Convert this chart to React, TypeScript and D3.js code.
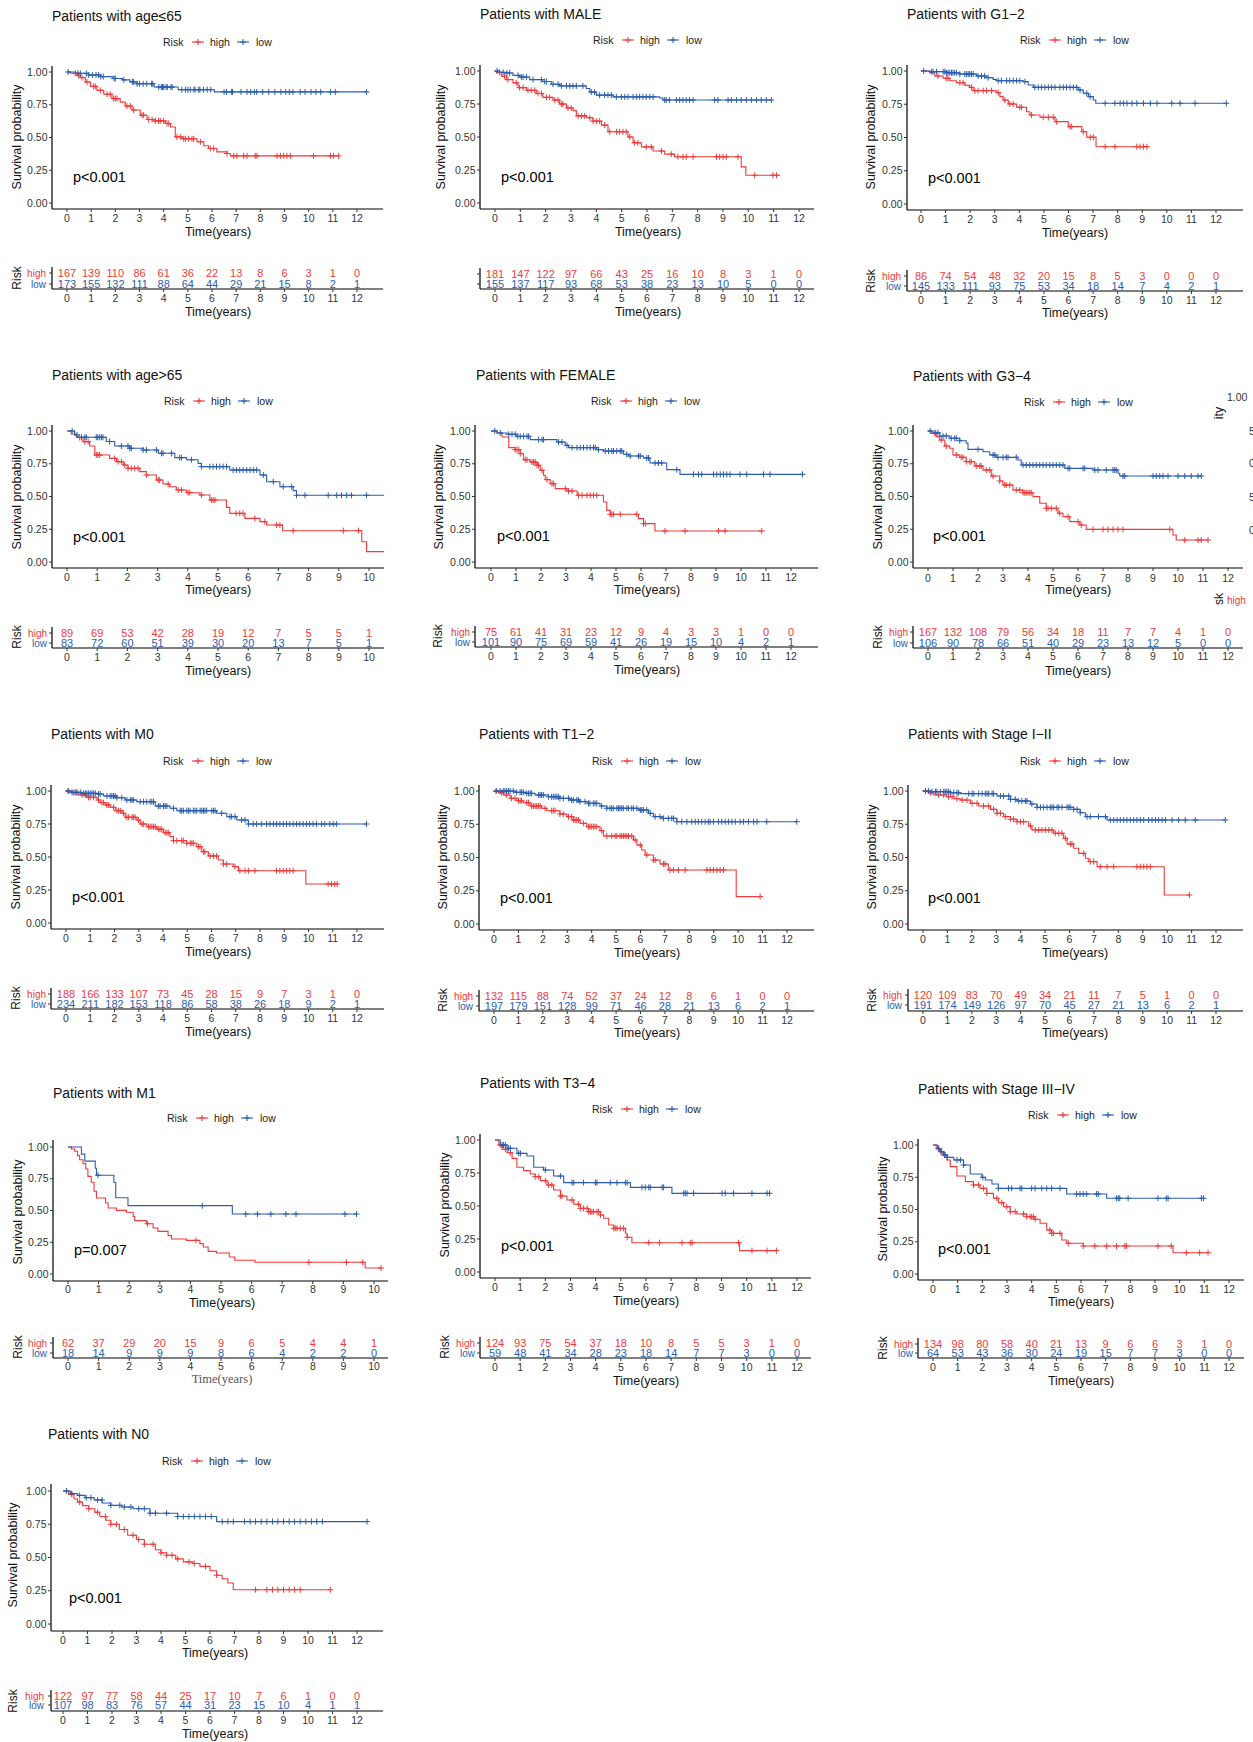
import React from 'react'
import * as d3 from 'd3'

const RED = '#EE3B3B'
const BLUE = '#2B5DAE'
const FONT = 'Arial, "Liberation Sans", Helvetica, sans-serif'

const yTickVals = [0, 0.25, 0.5, 0.75, 1]
const yTickLabels = ['0.00', '0.25', '0.50', '0.75', '1.00']

// ---- age<=65
const ageLeHighSteps = [[0.14,0.99],[0.41,0.975],[0.55,0.957],[0.76,0.924],[0.97,0.89],[1.24,0.86],[1.52,0.83],[1.86,0.797],[2.2,0.77],[2.41,0.74],[2.69,0.71],[3.03,0.67],[3.31,0.637],[3.59,0.627],[4.07,0.607],[4.28,0.58],[4.48,0.505],[4.76,0.49],[5.38,0.467],[5.66,0.437],[5.86,0.416],[6.2,0.39],[6.62,0.378],[6.76,0.36]]
const ageLeHighCens = [0.34,0.48,0.62,0.83,1.1,1.17,1.38,1.66,1.79,1.93,2.0,2.07,2.48,2.62,2.76,3.1,3.17,3.38,3.52,3.66,3.79,3.86,4.0,4.14,4.21,4.55,4.69,4.83,4.9,5.03,5.17,5.24,5.52,5.93,6.07,6.62,6.9,7.03,7.31,7.45,7.79,7.86,8.69,8.83,8.97,9.1,9.24,10.2,10.9,11.03,11.24]
const ageLeLowSteps = [[0.35,0.99],[0.9,0.977],[1.4,0.965],[1.9,0.95],[2.3,0.94],[2.6,0.925],[2.9,0.91],[3.6,0.885],[4.6,0.865],[6.1,0.848]]
const ageLeLowCens = [0.05,0.45,0.55,0.8,0.9,1.05,1.2,1.3,1.4,1.5,1.95,2.0,2.35,2.7,2.75,2.9,3.0,3.15,3.3,3.5,3.55,3.8,3.9,3.95,4.0,4.1,4.15,4.3,4.35,4.75,4.9,5.0,5.1,5.25,5.3,5.45,5.5,5.65,5.8,5.95,6.5,6.6,6.8,6.85,7.2,7.45,7.6,7.75,7.85,8.1,8.35,8.6,8.85,9.05,9.2,9.35,9.65,9.85,10.1,10.3,10.5,10.9,11.1,12.4]
const ageLeEnds = [11.24, 12.4]
const ageLeRiskHigh = [167,139,110,86,61,36,22,13,8,6,3,1,0]
const ageLeRiskLow = [173,155,132,111,88,64,44,29,21,15,8,2,1]

// ---- MALE
const maleHighSteps = [[0.05,0.99],[0.25,0.96],[0.45,0.935],[0.71,0.91],[0.91,0.874],[1.24,0.854],[1.63,0.83],[1.89,0.8],[2.29,0.78],[2.55,0.75],[2.82,0.72],[3.08,0.7],[3.21,0.66],[3.61,0.646],[3.87,0.62],[4.2,0.59],[4.46,0.54],[5.25,0.5],[5.45,0.456],[5.78,0.425],[6.24,0.394],[6.7,0.37],[7.09,0.35],[9.72,0.274],[9.9,0.21]]
const maleHighCens = [0.18,0.38,0.51,0.84,0.97,1.11,1.3,1.43,1.57,1.7,1.83,2.03,2.16,2.36,2.49,2.62,2.68,2.88,3.01,3.28,3.41,3.54,3.74,3.87,4.0,4.13,4.33,4.53,4.8,4.92,5.05,5.18,5.32,5.51,5.64,5.97,6.17,6.57,6.96,7.22,7.42,7.55,7.82,8.74,8.87,9.0,9.13,9.59,10.25,10.97,11.11]
const maleLowSteps = [[0.18,0.99],[0.38,0.985],[0.71,0.967],[0.97,0.955],[1.37,0.935],[1.89,0.92],[2.22,0.9],[2.55,0.887],[3.6,0.867],[3.74,0.84],[4.0,0.817],[4.66,0.804],[6.5,0.796],[6.63,0.78]]
const maleLowCens = [0.08,0.32,0.47,0.58,0.91,1.04,1.11,1.24,1.5,1.83,1.96,2.03,2.29,2.49,2.62,2.82,2.95,3.08,3.21,3.47,3.8,3.93,4.13,4.33,4.46,4.59,4.79,4.99,5.12,5.25,5.45,5.58,5.71,5.84,5.97,6.11,6.24,6.7,6.76,6.89,7.16,7.29,7.42,7.55,7.68,7.82,8.67,8.8,9.2,9.33,9.53,9.72,9.92,10.12,10.32,10.51,10.71,10.91]
const maleEnds = [11.24, 10.91]
const maleRiskHigh = [181,147,122,97,66,43,25,16,10,8,3,1,0]
const maleRiskLow = [155,137,117,93,68,53,38,23,13,10,5,0,0]

// ---- G1-2
const g12HighSteps = [[0.35,0.987],[0.56,0.962],[0.9,0.945],[1.17,0.927],[1.44,0.912],[1.78,0.892],[1.98,0.877],[2.12,0.852],[3.07,0.837],[3.21,0.807],[3.34,0.782],[3.55,0.752],[3.89,0.727],[4.29,0.694],[4.43,0.669],[4.84,0.652],[5.45,0.619],[5.99,0.582],[6.54,0.544],[6.74,0.502],[7.12,0.431]]
const g12HighCens = [0.69,1.03,1.1,1.58,1.71,2.05,2.19,2.32,2.53,2.66,2.87,3.14,3.41,3.61,3.75,4.02,4.09,4.49,4.97,5.18,5.38,5.52,6.06,6.13,6.6,6.88,7.01,7.49,7.89,8.78,8.91,9.05,9.19]
const g12LowSteps = [[0.35,0.995],[1.03,0.987],[1.58,0.977],[2.26,0.962],[2.66,0.95],[2.93,0.937],[3.07,0.927],[4.16,0.92],[4.36,0.895],[4.57,0.877],[6.4,0.857],[6.6,0.832],[6.81,0.807],[7.01,0.782],[7.11,0.757]]
const g12LowCens = [0.11,0.42,0.49,0.63,0.9,0.97,1.03,1.1,1.17,1.24,1.3,1.37,1.44,1.58,1.78,1.85,1.92,1.98,2.05,2.12,2.32,2.46,2.59,2.73,3.14,3.27,3.48,3.61,3.75,3.89,4.02,4.23,4.63,4.77,4.9,5.04,5.18,5.31,5.45,5.65,5.79,5.92,6.06,6.2,6.33,6.47,6.74,6.88,7.49,7.89,8.1,8.24,8.38,8.58,8.78,9.05,9.33,9.6,10.2,10.54,11.15,12.42]
const g12Ends = [9.25, 12.42]
const g12RiskHigh = [86,74,54,48,32,20,15,8,5,3,0,0,0]
const g12RiskLow = [145,133,111,93,75,53,34,18,14,7,4,2,1]

// ---- age>65
const ageGtHighSteps = [[0.14,0.977],[0.31,0.95],[0.53,0.919],[0.75,0.885],[0.92,0.817],[1.41,0.791],[1.64,0.766],[1.86,0.74],[2.02,0.715],[2.41,0.69],[2.63,0.664],[2.96,0.626],[3.18,0.595],[3.4,0.575],[3.62,0.55],[3.96,0.529],[4.4,0.511],[4.73,0.473],[5.28,0.417],[5.39,0.371],[5.89,0.333],[6.39,0.308],[6.61,0.282],[7.14,0.239],[9.76,0.155],[9.92,0.079]]
const ageGtHighCens = [0.42,0.59,0.7,0.97,1.02,1.08,1.58,1.69,1.8,1.91,2.02,2.13,2.24,2.35,2.63,3.02,3.07,3.35,3.68,3.79,4.01,4.07,4.45,4.78,4.84,4.9,5.6,5.72,5.83,6.22,6.55,6.94,7.05,7.49,9.15,9.65]
const ageGtLowSteps = [[0.25,0.97],[0.36,0.952],[1.3,0.92],[1.58,0.885],[2.08,0.868],[2.52,0.855],[3.02,0.83],[3.57,0.797],[3.96,0.78],[4.34,0.753],[4.45,0.728],[5.39,0.702],[6.39,0.664],[6.61,0.613],[7.05,0.575],[7.49,0.545],[7.6,0.509]]
const ageGtLowCens = [0.17,0.33,0.48,0.59,0.64,0.97,1.02,1.08,1.14,1.19,1.41,1.8,2.02,2.08,2.13,2.52,2.63,2.96,3.13,3.18,3.46,3.73,3.79,4.12,4.45,4.73,4.84,4.95,5.06,5.17,5.28,5.5,5.61,5.72,5.83,5.95,6.06,6.17,6.28,6.5,6.83,7.16,7.44,7.6,7.88,8.65,8.93,9.09,9.26,9.42,9.92]
const ageGtEnds = [10.5, 10.5]
const ageGtRiskHigh = [89,69,53,42,28,19,12,7,5,5,1]
const ageGtRiskLow = [83,72,60,51,39,30,20,13,7,5,1]

// ---- FEMALE
const femHighSteps = [[0.24,0.985],[0.44,0.954],[0.71,0.873],[0.97,0.858],[1.17,0.827],[1.3,0.781],[1.57,0.763],[1.84,0.738],[1.97,0.7],[2.1,0.662],[2.17,0.629],[2.37,0.598],[2.57,0.56],[3.04,0.542],[3.44,0.509],[4.5,0.458],[4.63,0.394],[4.77,0.364],[5.9,0.331],[6.1,0.293],[6.56,0.237]]
const femHighCens = [0.97,1.04,1.11,1.17,1.37,1.44,1.64,1.7,1.77,1.84,1.9,2.04,2.24,2.44,2.5,2.97,3.1,3.24,3.5,3.64,3.84,3.97,4.1,4.23,4.77,4.83,4.9,5.17,5.83,6.1,6.17,6.96,7.76,9.1,9.36,10.83]
const femLowSteps = [[0.24,0.985],[0.64,0.975],[1.04,0.959],[1.57,0.934],[2.64,0.916],[2.97,0.89],[3.1,0.873],[4.23,0.858],[4.5,0.847],[5.3,0.822],[5.5,0.809],[6.1,0.794],[6.36,0.756],[7.03,0.705],[7.56,0.669]]
const femLowCens = [0.15,0.37,0.71,0.84,0.97,1.07,1.17,1.3,1.44,1.5,1.9,2.04,2.1,2.7,2.84,3.04,3.24,3.44,3.57,3.7,3.84,3.97,4.1,4.17,4.3,4.57,4.7,4.83,4.9,5.03,5.17,5.23,5.43,5.57,5.9,5.97,6.23,6.3,6.56,6.7,6.83,7.43,8.1,8.3,8.43,8.9,9.03,9.17,9.3,9.43,9.56,9.96,10.23,10.9,11.16,12.46]
const femEnds = [10.83, 12.46]
const femRiskHigh = [75,61,41,31,23,12,9,4,3,3,1,0,0]
const femRiskLow = [101,90,75,69,59,41,26,19,15,10,4,2,1]

// ---- G3-4
const g34HighSteps = [[0.13,0.982],[0.33,0.957],[0.47,0.931],[0.67,0.885],[0.87,0.868],[1.0,0.817],[1.27,0.799],[1.53,0.766],[1.87,0.733],[2.2,0.702],[2.53,0.656],[2.87,0.618],[3.0,0.588],[3.4,0.55],[3.8,0.529],[4.2,0.499],[4.47,0.448],[4.73,0.41],[5.2,0.372],[5.4,0.346],[5.67,0.308],[6.07,0.282],[6.33,0.249],[9.8,0.206],[9.93,0.168]]
const g34HighCens = [0.27,0.53,0.73,1.13,1.33,1.4,1.53,1.67,1.73,1.93,2.07,2.13,2.33,2.47,2.6,2.87,3.07,3.13,3.27,3.53,3.67,3.8,3.87,3.93,4.0,4.07,4.13,4.73,4.8,4.93,5.13,5.27,5.6,6.0,6.13,6.6,7.0,7.2,7.4,7.6,7.8,9.67,10.27,10.8,10.93,11.2]
const g34LowSteps = [[0.2,0.987],[0.47,0.962],[0.87,0.944],[1.27,0.926],[1.53,0.906],[1.6,0.86],[2.2,0.842],[2.47,0.817],[2.73,0.799],[3.6,0.779],[3.73,0.74],[5.47,0.715],[6.6,0.702],[7.6,0.677],[7.67,0.656]]
const g34LowCens = [0.09,0.31,0.4,0.6,0.73,0.93,1.07,1.13,1.27,2.0,2.6,2.67,2.8,3.0,3.13,3.2,3.53,3.8,3.93,4.07,4.2,4.33,4.47,4.6,4.73,4.87,5.0,5.13,5.27,5.4,5.6,5.67,6.2,6.27,6.67,6.8,7.13,7.4,7.47,7.53,7.8,7.87,9.0,9.13,9.27,9.4,9.6,10.0,10.27,10.53,10.8,10.93]
const g34Ends = [11.2, 10.93]
const g34RiskHigh = [167,132,108,79,56,34,18,11,7,7,4,1,0]
const g34RiskLow = [106,90,78,66,51,40,29,23,13,12,5,0,0]

// ---- M0
const m0HighSteps = [[0.18,0.987],[0.52,0.97],[0.86,0.952],[1.28,0.932],[1.41,0.912],[1.62,0.894],[1.82,0.876],[2.03,0.851],[2.3,0.831],[2.44,0.801],[2.92,0.78],[3.06,0.75],[3.33,0.73],[3.74,0.71],[4.02,0.684],[4.29,0.654],[4.43,0.624],[4.98,0.604],[5.39,0.578],[5.6,0.54],[5.87,0.508],[6.28,0.477],[6.49,0.447],[6.9,0.427],[7.11,0.396],[9.89,0.295]]
const m0HighCens = [0.11,0.32,0.45,0.66,0.8,0.93,1.0,1.14,1.34,1.48,1.55,1.69,1.76,1.96,2.1,2.17,2.24,2.37,2.51,2.58,2.72,2.78,2.85,2.99,3.13,3.2,3.4,3.47,3.54,3.61,3.68,3.81,3.88,3.95,4.09,4.16,4.22,4.43,4.57,4.77,4.84,4.98,5.12,5.19,5.25,5.46,5.53,5.67,5.73,5.94,6.08,6.21,6.49,6.63,6.97,7.17,7.38,7.52,7.79,8.68,8.82,8.96,9.09,9.23,9.37,10.81,10.95,11.08,11.18]
const m0LowSteps = [[0.25,0.99],[0.66,0.982],[1.28,0.977],[1.55,0.962],[2.1,0.949],[2.44,0.932],[2.92,0.919],[3.68,0.886],[4.29,0.869],[4.57,0.851],[6.21,0.831],[6.63,0.806],[7.04,0.78],[7.52,0.75]]
const m0LowCens = [0.08,0.25,0.38,0.45,0.59,0.73,0.8,0.86,0.93,1.0,1.07,1.14,1.21,1.34,1.41,1.69,1.82,1.89,1.96,2.03,2.1,2.3,2.51,2.65,2.72,2.78,3.06,3.2,3.33,3.47,3.54,3.61,3.81,3.88,4.02,4.09,4.16,4.43,4.71,4.77,4.84,4.98,5.05,5.12,5.25,5.32,5.39,5.53,5.6,5.67,5.73,5.8,6.01,6.08,6.15,6.42,6.76,6.83,6.97,7.24,7.38,7.52,7.72,7.86,8.07,8.27,8.41,8.55,8.68,8.82,8.96,9.09,9.23,9.37,9.51,9.64,9.78,9.92,10.05,10.19,10.33,10.54,10.67,10.88,11.02,11.15,12.39]
const m0Ends = [11.18, 12.39]
const m0RiskHigh = [188,166,133,107,73,45,28,15,9,7,3,1,0]
const m0RiskLow = [234,211,182,153,118,86,58,38,26,18,9,2,1]

// ---- T1-2
const t12HighSteps = [[0.18,0.987],[0.38,0.97],[0.66,0.945],[0.93,0.927],[1.2,0.912],[1.48,0.887],[1.95,0.87],[2.16,0.852],[2.7,0.827],[2.98,0.807],[3.25,0.782],[3.52,0.757],[3.8,0.732],[4.34,0.702],[4.48,0.662],[5.71,0.632],[5.85,0.594],[6.05,0.556],[6.19,0.519],[6.53,0.481],[6.8,0.451],[7.14,0.406],[9.92,0.206]]
const t12HighCens = [0.11,0.31,0.52,0.72,0.86,1.0,1.07,1.13,1.34,1.41,1.54,1.61,1.68,1.75,1.82,1.89,2.09,2.36,2.43,2.5,2.7,2.84,3.05,3.18,3.25,3.32,3.39,3.46,3.66,3.87,3.93,4.0,4.07,4.14,4.21,4.41,4.62,4.82,4.96,5.03,5.16,5.23,5.3,5.37,5.44,5.51,5.64,5.78,5.99,6.26,6.53,6.6,6.94,7.01,7.21,7.35,7.55,7.83,8.72,8.85,8.99,9.13,9.26,9.4,10.9]
const t12LowSteps = [[0.86,0.99],[1.34,0.982],[1.68,0.97],[2.23,0.957],[2.7,0.945],[3.11,0.932],[3.52,0.92],[3.87,0.907],[4.34,0.887],[4.62,0.87],[5.92,0.857],[6.33,0.832],[6.53,0.807],[6.87,0.794],[7.49,0.769]]
const t12LowCens = [0.08,0.25,0.38,0.45,0.52,0.59,0.66,0.79,0.93,1.07,1.13,1.2,1.34,1.41,1.48,1.54,1.82,1.89,1.95,2.02,2.23,2.36,2.43,2.5,2.57,2.64,2.7,2.84,3.05,3.18,3.25,3.39,3.46,3.52,3.73,3.87,3.93,4.07,4.14,4.21,4.41,4.62,4.75,4.82,4.89,5.03,5.1,5.16,5.23,5.3,5.44,5.51,5.64,5.71,5.85,5.99,6.05,6.12,6.26,6.4,6.6,6.8,6.94,7.14,7.28,7.35,7.49,7.69,7.9,8.1,8.24,8.37,8.51,8.65,8.78,8.85,8.99,9.19,9.33,9.47,9.6,9.74,9.88,10.08,10.22,10.42,10.63,10.77,11.17,12.4]
const t12Ends = [10.9, 12.4]
const t12RiskHigh = [132,115,88,74,52,37,24,12,8,6,1,0,0]
const t12RiskLow = [197,179,151,128,99,71,46,28,21,13,6,2,1]

// ---- Stage I-II
const s12HighSteps = [[0.23,0.987],[0.44,0.97],[0.98,0.957],[1.26,0.942],[1.53,0.932],[1.94,0.907],[2.28,0.887],[2.76,0.862],[3.03,0.832],[3.3,0.807],[3.58,0.787],[3.85,0.769],[4.33,0.737],[4.46,0.707],[5.35,0.682],[5.76,0.644],[5.9,0.602],[6.17,0.569],[6.38,0.531],[6.65,0.494],[6.79,0.469],[7.13,0.431],[9.88,0.218]]
const s12HighCens = [0.1,0.3,0.64,0.85,1.05,1.19,1.39,1.6,1.8,2.01,2.21,2.48,2.69,2.89,3.03,3.17,3.37,3.58,3.71,3.85,3.99,4.12,4.4,4.6,4.74,4.87,5.01,5.15,5.28,5.42,5.56,5.69,5.83,6.03,6.1,6.58,6.85,6.99,7.26,7.54,7.81,8.76,8.9,9.04,9.17,9.31,10.91]
const s12LowSteps = [[0.3,0.995],[1.12,0.987],[1.53,0.98],[3.03,0.962],[3.58,0.937],[3.85,0.925],[4.4,0.902],[4.67,0.877],[6.17,0.862],[6.44,0.837],[6.65,0.807],[7.54,0.782]]
const s12LowCens = [0.1,0.23,0.37,0.51,0.57,0.71,0.85,0.91,0.98,1.05,1.12,1.26,1.39,1.46,1.87,2.01,2.08,2.28,2.42,2.55,2.62,2.69,2.83,2.89,3.17,3.3,3.51,3.58,3.78,3.92,4.05,4.19,4.26,4.46,4.67,4.81,4.94,5.08,5.21,5.28,5.35,5.49,5.56,5.69,5.9,5.97,6.03,6.17,6.31,6.44,6.72,6.85,7.19,7.47,7.67,7.81,7.95,8.08,8.22,8.35,8.49,8.63,8.76,8.9,9.04,9.24,9.38,9.52,9.65,9.79,9.93,10.2,10.47,10.74,11.15,12.38]
const s12Ends = [10.91, 12.38]
const s12RiskHigh = [120,109,83,70,49,34,21,11,7,5,1,0,0]
const s12RiskLow = [191,174,149,126,97,70,45,27,21,13,6,2,1]

// ---- M1
const m1HighSteps = [[0.11,0.984],[0.22,0.966],[0.31,0.932],[0.38,0.9],[0.49,0.869],[0.58,0.827],[0.65,0.769],[0.76,0.722],[0.85,0.651],[0.93,0.598],[1.23,0.559],[1.31,0.52],[1.58,0.501],[1.91,0.486],[2.13,0.454],[2.18,0.42],[2.56,0.396],[2.78,0.362],[2.94,0.336],[3.27,0.302],[3.38,0.276],[3.87,0.265],[4.31,0.239],[4.42,0.213],[4.58,0.178],[4.85,0.165],[5.27,0.134],[5.45,0.108],[6.11,0.092],[9.71,0.047]]
const m1HighCens = [2.6,4.18,7.87,9.1,9.63,10.23]
const m1LowSteps = [[0.44,0.944],[0.55,0.889],[0.89,0.833],[0.93,0.778],[1.5,0.72],[1.56,0.6],[1.96,0.538],[5.37,0.472]]
const m1LowCens = [0.98,4.39,5.81,6.19,6.63,7.12,7.45,9.05,9.43]
const m1Ends = [10.25, 9.43]
const m1RiskHigh = [62,37,29,20,15,9,6,5,4,4,1]
const m1RiskLow = [18,14,9,9,9,8,6,4,2,2,0]

// ---- T3-4
const t34HighSteps = [[0.15,0.962],[0.28,0.93],[0.48,0.904],[0.68,0.861],[0.87,0.793],[1.14,0.768],[1.4,0.742],[1.6,0.722],[1.8,0.692],[2.07,0.659],[2.33,0.621],[2.6,0.576],[2.86,0.545],[3.13,0.513],[3.39,0.482],[3.72,0.457],[4.19,0.432],[4.32,0.407],[4.52,0.356],[4.72,0.331],[5.18,0.293],[5.25,0.263],[5.44,0.222],[9.72,0.162]]
const t34HighCens = [0.21,0.41,0.61,1.6,1.74,2.0,2.13,2.26,2.6,2.66,3.06,3.32,3.39,3.52,3.66,3.72,3.79,3.85,3.92,4.05,4.12,4.19,4.72,4.78,4.85,4.98,5.11,5.25,6.11,6.54,7.43,7.76,7.83,9.68,10.21,10.81,11.18]
const t34LowSteps = [[0.21,0.962],[0.48,0.937],[0.87,0.899],[1.27,0.879],[1.54,0.793],[1.93,0.773],[2.33,0.727],[2.73,0.677],[5.38,0.641],[7.03,0.596]]
const t34LowCens = [0.28,0.34,0.41,0.54,0.61,0.94,1.01,2.0,2.6,3.06,3.13,3.52,3.99,4.05,4.58,4.85,5.18,5.25,5.84,5.97,6.11,6.17,6.64,6.7,7.5,7.56,7.63,7.89,9.02,9.15,9.48,10.21,10.81,10.91]
const t34Ends = [11.18, 10.91]
const t34RiskHigh = [124,93,75,54,37,18,10,8,5,5,3,1,0]
const t34RiskLow = [59,48,41,34,28,23,18,14,7,7,3,0,0]

// ---- Stage III-IV
const s34HighSteps = [[0.13,0.974],[0.27,0.948],[0.4,0.922],[0.57,0.884],[0.7,0.832],[0.97,0.76],[1.31,0.716],[1.64,0.69],[1.91,0.664],[2.18,0.625],[2.45,0.587],[2.65,0.553],[2.86,0.522],[3.13,0.483],[3.4,0.465],[3.8,0.444],[4.14,0.424],[4.34,0.393],[4.61,0.341],[4.81,0.315],[5.22,0.264],[5.42,0.238],[6.09,0.217],[9.73,0.165]]
const s34HighCens = [0.23,0.36,0.5,1.64,1.85,2.05,2.18,2.59,2.79,2.99,3.13,3.33,3.67,3.8,3.94,4.0,4.07,4.14,4.74,4.81,4.88,5.15,5.49,6.09,6.56,7.04,7.44,7.78,7.84,9.12,9.66,10.27,10.81,11.15]
const s34LowSteps = [[0.19,0.969],[0.3,0.948],[0.43,0.922],[0.57,0.904],[0.84,0.884],[1.24,0.845],[1.51,0.775],[1.98,0.749],[2.12,0.729],[2.39,0.698],[2.65,0.664],[5.42,0.62],[7.04,0.587]]
const s34LowCens = [0.23,0.32,0.46,0.57,0.97,1.11,1.24,2.02,2.65,3.06,3.19,3.53,3.6,4.0,4.14,4.41,4.61,4.81,5.15,5.82,5.96,6.09,6.23,6.63,6.7,7.44,7.51,7.57,7.91,9.12,9.46,9.53,10.88,10.97]
const s34Ends = [11.15, 10.97]
const s34RiskHigh = [134,98,80,58,40,21,13,9,6,6,3,1,0]
const s34RiskLow = [64,53,43,36,30,24,19,15,7,7,3,0,0]

// ---- N0
const n0HighSteps = [[0.23,0.975],[0.45,0.94],[0.59,0.917],[0.8,0.89],[1.05,0.867],[1.3,0.84],[1.5,0.808],[1.75,0.78],[1.95,0.75],[2.3,0.71],[2.64,0.667],[3.0,0.635],[3.32,0.6],[3.77,0.558],[4.0,0.535],[4.23,0.517],[4.6,0.49],[4.91,0.467],[5.3,0.455],[5.59,0.433],[6.0,0.4],[6.27,0.367],[6.5,0.34],[6.73,0.308],[6.95,0.258]]
const n0HighCens = [0.36,0.68,1.05,1.41,1.73,1.95,2.18,2.5,2.86,3.09,3.32,3.68,4.0,4.23,4.45,4.68,5.14,5.36,5.82,6.27,7.86,8.32,8.55,8.77,9.0,9.23,9.45,9.68,10.91]
const n0LowSteps = [[0.3,0.98],[0.59,0.967],[0.9,0.95],[1.27,0.933],[1.6,0.91],[1.95,0.892],[2.4,0.88],[2.86,0.867],[3.55,0.833],[4.68,0.808],[6.27,0.77]]
const n0LowCens = [0.14,0.36,0.68,0.95,1.14,1.41,1.59,1.95,2.32,2.5,2.77,3.09,3.32,3.55,3.77,4.23,4.68,4.91,5.14,5.36,5.59,5.82,6.05,6.5,6.73,6.95,7.41,7.64,7.86,8.09,8.32,8.55,8.77,9.0,9.23,9.45,9.68,9.91,10.14,10.36,10.59,12.41]
const n0Ends = [10.91, 12.41]
const n0RiskHigh = [122,97,77,58,44,25,17,10,7,6,1,0,0]
const n0RiskLow = [107,98,83,76,57,44,31,23,15,10,4,1,1]

type Curve = { steps: number[][]; cens: number[]; end: number }
type Lay = {
  titleX: number; titleY: number; legX: number; legY: number; axX: number
  y1: number; y0: number; axBottom: number; x0: number; xLast: number; axRight: number
  xtY: number; xtitleX: number; xtitleY: number; ylabX: number; ylabY: number
  pX: number; pY: number; hiY: number; loY: number; tAxY: number; tTickY: number; tTitleY: number
  riskLabX: number; riskLabY: number; hlRight: number
}
type Panel = {
  title: string; pval: string; lastTick: number; high: Curve; low: Curve
  riskHigh: number[]; riskLow: number[]; lay: Lay; noRiskLabels?: boolean; serifTime?: boolean
}

const L = (a: number[]): Lay => ({
  titleX: a[0], titleY: a[1], legX: a[2], legY: a[3], axX: a[4], y1: a[5], y0: a[6], axBottom: a[7],
  x0: a[8], xLast: a[9], axRight: a[10], xtY: a[11], xtitleX: a[12], xtitleY: a[13], ylabX: a[14],
  ylabY: a[15], pX: a[16], pY: a[17], hiY: a[18], loY: a[19], tAxY: a[20], tTickY: a[21], tTitleY: a[22],
  riskLabX: a[23], riskLabY: a[24], hlRight: a[25],
})

const panels: Panel[] = [
  { title: 'Patients with age≤65', pval: 'p<0.001', lastTick: 12,
    high: { steps: ageLeHighSteps, cens: ageLeHighCens, end: ageLeEnds[0] },
    low: { steps: ageLeLowSteps, cens: ageLeLowCens, end: ageLeEnds[1] },
    riskHigh: ageLeRiskHigh, riskLow: ageLeRiskLow,
    lay: L([52,16,163,42,52,72,203,209,67,357,383,218,218,232,17,137,73,177,273,284,289,298,312,17,278,46]) },
  { title: 'Patients with MALE', pval: 'p<0.001', lastTick: 12, noRiskLabels: true,
    high: { steps: maleHighSteps, cens: maleHighCens, end: maleEnds[0] },
    low: { steps: maleLowSteps, cens: maleLowCens, end: maleEnds[1] },
    riskHigh: maleRiskHigh, riskLow: maleRiskLow,
    lay: L([480,14,593,40,480,71,203,209,495,799,814,218,648,232,441,137,501,177,274,284,289,298,312,441,278,474]) },
  { title: 'Patients with G1−2', pval: 'p<0.001', lastTick: 12,
    high: { steps: g12HighSteps, cens: g12HighCens, end: g12Ends[0] },
    low: { steps: g12LowSteps, cens: g12LowCens, end: g12Ends[1] },
    riskHigh: g12RiskHigh, riskLow: g12RiskLow,
    lay: L([907,14,1020,40,907,71,204,210,921,1216,1243,219,1075,233,871,137,928,178,276,286,291,300,313,871,281,901]) },
  { title: 'Patients with age>65', pval: 'p<0.001', lastTick: 10,
    high: { steps: ageGtHighSteps, cens: ageGtHighCens, end: ageGtEnds[0] },
    low: { steps: ageGtLowSteps, cens: ageGtLowCens, end: ageGtEnds[1] },
    riskHigh: ageGtRiskHigh, riskLow: ageGtRiskLow,
    lay: L([52,375,164,401,52,431,562,568,67,369,384,577,218,590,17,497,73,537,633,643,648,657,671,17,637,47]) },
  { title: 'Patients with FEMALE', pval: 'p<0.001', lastTick: 12,
    high: { steps: femHighSteps, cens: femHighCens, end: femEnds[0] },
    low: { steps: femLowSteps, cens: femLowCens, end: femEnds[1] },
    riskHigh: femRiskHigh, riskLow: femRiskLow,
    lay: L([476,375,591,401,475,431,562,568,491,791,818,577,647,590,439,497,497,536,632,642,647,656,670,438,636,470]) },
  { title: 'Patients with G3−4', pval: 'p<0.001', lastTick: 12,
    high: { steps: g34HighSteps, cens: g34HighCens, end: g34Ends[0] },
    low: { steps: g34LowSteps, cens: g34LowCens, end: g34Ends[1] },
    riskHigh: g34RiskHigh, riskLow: g34RiskLow,
    lay: L([913,376,1024,402,913,431,562,568,928,1228,1243,578,1078,590,878,497,933,536,632,643,648,656,671,878,637,908]) },
  { title: 'Patients with M0', pval: 'p<0.001', lastTick: 12,
    high: { steps: m0HighSteps, cens: m0HighCens, end: m0Ends[0] },
    low: { steps: m0LowSteps, cens: m0LowCens, end: m0Ends[1] },
    riskHigh: m0RiskHigh, riskLow: m0RiskLow,
    lay: L([51,734,163,761,51,791,923,929,66,357,384,938,218,952,16,857,72,897,994,1004,1009,1018,1032,16,998,46]) },
  { title: 'Patients with T1−2', pval: 'p<0.001', lastTick: 12,
    high: { steps: t12HighSteps, cens: t12HighCens, end: t12Ends[0] },
    low: { steps: t12LowSteps, cens: t12LowCens, end: t12Ends[1] },
    riskHigh: t12RiskHigh, riskLow: t12RiskLow,
    lay: L([479,734,592,761,479,791,924,930,494,787,814,939,647,953,443,857,500,898,996,1006,1011,1020,1033,443,1000,473]) },
  { title: 'Patients with Stage I−II', pval: 'p<0.001', lastTick: 12,
    high: { steps: s12HighSteps, cens: s12HighCens, end: s12Ends[0] },
    low: { steps: s12LowSteps, cens: s12LowCens, end: s12Ends[1] },
    riskHigh: s12RiskHigh, riskLow: s12RiskLow,
    lay: L([908,734,1020,761,908,791,924,930,923,1216,1243,939,1075,953,872,857,928,898,995,1005,1011,1020,1033,872,1000,902]) },
  { title: 'Patients with M1', pval: 'p=0.007', lastTick: 10, serifTime: true,
    high: { steps: m1HighSteps, cens: m1HighCens, end: m1Ends[0] },
    low: { steps: m1LowSteps, cens: m1LowCens, end: m1Ends[1] },
    riskHigh: m1RiskHigh, riskLow: m1RiskLow,
    lay: L([53,1093,167,1118,53,1147,1274,1281,68,374,388,1289,222,1303,18,1212,74,1250,1343,1353,1358,1366,1379,18,1347,47]) },
  { title: 'Patients with T3−4', pval: 'p<0.001', lastTick: 12,
    high: { steps: t34HighSteps, cens: t34HighCens, end: t34Ends[0] },
    low: { steps: t34LowSteps, cens: t34LowCens, end: t34Ends[1] },
    riskHigh: t34RiskHigh, riskLow: t34RiskLow,
    lay: L([480,1083,592,1109,480,1140,1272,1278,495,797,811,1287,646,1301,445,1205,501,1246,1343,1353,1358,1367,1381,445,1347,475]) },
  { title: 'Patients with Stage III−IV', pval: 'p<0.001', lastTick: 12,
    high: { steps: s34HighSteps, cens: s34HighCens, end: s34Ends[0] },
    low: { steps: s34LowSteps, cens: s34LowCens, end: s34Ends[1] },
    riskHigh: s34RiskHigh, riskLow: s34RiskLow,
    lay: L([918,1089,1028,1115,918,1145,1274,1280,933,1229,1244,1289,1081,1302,883,1209,938,1249,1344,1353,1358,1367,1381,883,1348,913]) },
  { title: 'Patients with N0', pval: 'p<0.001', lastTick: 12,
    high: { steps: n0HighSteps, cens: n0HighCens, end: n0Ends[0] },
    low: { steps: n0LowSteps, cens: n0LowCens, end: n0Ends[1] },
    riskHigh: n0RiskHigh, riskLow: n0RiskLow,
    lay: L([48,1434,162,1461,51,1491,1624,1631,63,357,383,1640,215,1653,13,1555,69,1598,1696,1705,1711,1720,1734,13,1701,44]) },
]

function survAt(steps: number[][], t: number) {
  let s = 1
  for (const st of steps) {
    if (st[0] <= t) s = st[1]
    else break
  }
  return s
}

function plus(cx: number, cy: number, r = 3) {
  return `M${cx - r},${cy}H${cx + r}M${cx},${cy - r}V${cy + r}`
}

function KMPanel({ p }: { p: Panel }) {
  const l = p.lay
  const x = d3.scaleLinear().domain([0, p.lastTick]).range([l.x0, l.xLast])
  const y = d3.scaleLinear().domain([0, 1]).range([l.y0, l.y1])
  const xTicks = d3.range(0, p.lastTick + 1)
  const axTop = l.y1 - (l.axBottom - l.y0)
  const line = d3.line<number[]>()
    .x(d => x(d[0]))
    .y(d => y(d[1]))
    .curve(d3.curveStepAfter)

  const curves = [
    { c: p.high, col: RED },
    { c: p.low, col: BLUE },
  ]

  const tickCol = '#333'
  return (
    <g fontFamily={FONT}>
      <text x={l.titleX} y={l.titleY} dy="0.35em" fontSize={14} fill="#111">{p.title}</text>

      {/* legend */}
      <g fontSize={10.5} fill="#222">
        <text x={l.legX} y={l.legY} dy="0.35em">Risk</text>
        <line x1={l.legX + 29} x2={l.legX + 41} y1={l.legY} y2={l.legY} stroke={RED} strokeWidth={1.1} />
        <path d={plus(l.legX + 35, l.legY)} stroke={RED} strokeWidth={1.1} />
        <text x={l.legX + 47} y={l.legY} dy="0.35em">high</text>
        <line x1={l.legX + 74} x2={l.legX + 86} y1={l.legY} y2={l.legY} stroke={BLUE} strokeWidth={1.1} />
        <path d={plus(l.legX + 80, l.legY)} stroke={BLUE} strokeWidth={1.1} />
        <text x={l.legX + 93} y={l.legY} dy="0.35em">low</text>
      </g>

      {/* curves */}
      {curves.map(({ c, col }, i) => {
        const pts = [[0, 1], ...c.steps, [c.end, c.steps[c.steps.length - 1][1]]]
        return (
          <g key={i}>
            <path d={line(pts) || ''} fill="none" stroke={col} strokeWidth={1.1} />
            <path d={c.cens.map(t => plus(x(t), y(survAt(c.steps, t)))).join('')} stroke={col} strokeWidth={1} fill="none" />
          </g>
        )
      })}

      {/* axes */}
      <line x1={l.axX} x2={l.axX} y1={axTop} y2={l.axBottom} stroke="#000" strokeWidth={1.2} />
      <line x1={l.axX} x2={l.axRight} y1={l.axBottom} y2={l.axBottom} stroke="#000" strokeWidth={1.2} />
      {yTickVals.map((v, i) => (
        <g key={i}>
          <line x1={l.axX - 3} x2={l.axX} y1={y(v)} y2={y(v)} stroke="#333" />
          <text x={l.axX - 4.5} y={y(v)} dy="0.35em" textAnchor="end" fontSize={10.5} fill={tickCol}>{yTickLabels[i]}</text>
        </g>
      ))}
      {xTicks.map(t => (
        <g key={t}>
          <line x1={x(t)} x2={x(t)} y1={l.axBottom} y2={l.axBottom + 3} stroke="#333" />
          <text x={x(t)} y={l.xtY} dy="0.35em" textAnchor="middle" fontSize={10.5} fill={tickCol}>{t}</text>
        </g>
      ))}
      <text x={l.xtitleX} y={l.xtitleY} dy="0.35em" textAnchor="middle" fontSize={12.5} fill="#111">Time(years)</text>
      <text transform={`translate(${l.ylabX},${l.ylabY}) rotate(-90)`} dy="0.35em" textAnchor="middle" fontSize={12.5} fill="#111">Survival probability</text>
      <text x={l.pX} y={l.pY} dy="0.35em" fontSize={14.5} fill="#000">{p.pval}</text>

      {/* risk table */}
      <line x1={l.axX} x2={l.axX} y1={l.hiY - 6} y2={l.tAxY} stroke="#000" strokeWidth={1.2} />
      <line x1={l.axX} x2={l.axRight} y1={l.tAxY} y2={l.tAxY} stroke="#000" strokeWidth={1.2} />
      <line x1={l.axX - 3} x2={l.axX} y1={l.hiY} y2={l.hiY} stroke="#333" />
      <line x1={l.axX - 3} x2={l.axX} y1={l.loY} y2={l.loY} stroke="#333" />
      {!p.noRiskLabels && (
        <g>
          <text x={l.hlRight} y={l.hiY} dy="0.35em" textAnchor="end" fontSize={10} fill={RED}>high</text>
          <text x={l.hlRight} y={l.loY} dy="0.35em" textAnchor="end" fontSize={10} fill={BLUE}>low</text>
          <text transform={`translate(${l.riskLabX},${l.riskLabY}) rotate(-90)`} dy="0.35em" textAnchor="middle" fontSize={12} fill="#111">Risk</text>
        </g>
      )}
      {p.riskHigh.map((n, i) => (
        <text key={'h' + i} x={x(i)} y={l.hiY} dy="0.35em" textAnchor="middle" fontSize={11} fill={RED}>{n}</text>
      ))}
      {p.riskLow.map((n, i) => (
        <text key={'l' + i} x={x(i)} y={l.loY} dy="0.35em" textAnchor="middle" fontSize={11} fill={BLUE}>{n}</text>
      ))}
      {xTicks.map(t => (
        <g key={'t' + t}>
          <line x1={x(t)} x2={x(t)} y1={l.tAxY} y2={l.tAxY + 3} stroke="#333" />
          <text x={x(t)} y={l.tTickY} dy="0.35em" textAnchor="middle" fontSize={10.5} fill={tickCol}>{t}</text>
        </g>
      ))}
      {p.serifTime ? (
        <text x={l.xtitleX} y={l.tTitleY} dy="0.35em" textAnchor="middle" fontSize={12.5}
          fontFamily='"Liberation Serif", "Times New Roman", serif' fill="#555">Time(years)</text>
      ) : (
        <text x={l.xtitleX} y={l.tTitleY} dy="0.35em" textAnchor="middle" fontSize={12.5} fill="#111">Time(years)</text>
      )}
    </g>
  )
}

export default function App() {
  return (
    <svg width={1253} height={1742} style={{ position: 'absolute', left: 0, top: 0, background: '#fff' }}
      fontFamily={FONT}>
      <rect width={1253} height={1742} fill="#fff" />
      {panels.map((p, i) => <KMPanel key={i} p={p} />)}
      {/* clipped fragments of a neighbouring figure at the right edge */}
      <g fontFamily={FONT}>
        <text x={1227} y={397} dy="0.35em" fontSize={10.5} fill="#333">1.00</text>
        <text transform="translate(1219,413) rotate(-90)" dy="0.35em" textAnchor="middle" fontSize={12.5} fill="#111">ity</text>
        <text transform="translate(1219,599) rotate(-90)" dy="0.35em" textAnchor="middle" fontSize={12} fill="#111">sk</text>
        <text x={1227} y={600} dy="0.35em" fontSize={10} fill={RED}>high</text>
        {[431, 463, 497, 530].map((yy, i) => (
          <text key={i} x={1249} y={yy} dy="0.35em" fontSize={10.5} fill="#333">{i % 2 ? '0' : '5'}</text>
        ))}
      </g>
    </svg>
  )
}
